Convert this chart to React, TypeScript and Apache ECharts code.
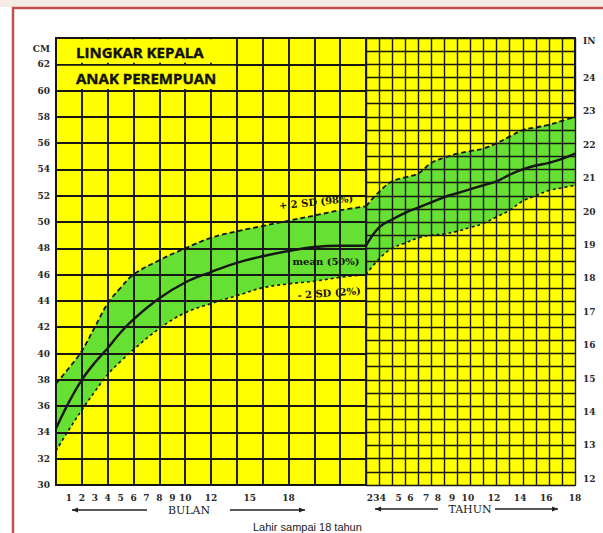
import React, { useEffect, useRef } from 'react';
import * as echarts from 'echarts';

// ---- data ----
const monthX = [0, 1, 2, 3, 4, 5, 6, 8, 10, 12, 14, 16, 18, 20, 22, 24];
const monthUpper = [37.7, 38.9, 40.2, 42.0, 43.8, 45.0, 46.0, 47.1, 48.0, 48.8, 49.3, 49.7, 50.1, 50.5, 50.9, 51.2];
const monthMean = [34.3, 36.3, 38.0, 39.3, 40.4, 41.6, 42.6, 44.2, 45.4, 46.2, 46.9, 47.4, 47.8, 48.1, 48.2, 48.2];
const monthLower = [32.6, 34.2, 35.7, 37.1, 38.4, 39.4, 40.3, 41.9, 43.1, 43.8, 44.4, 45.0, 45.3, 45.5, 45.8, 46.0];

const yearX = [2, 3, 4, 5, 6, 7, 8, 9, 10, 11, 12, 13, 14, 15, 16, 17, 18];
const yearUpper = [51.2, 52.3, 53.1, 53.4, 53.7, 54.5, 54.9, 55.2, 55.4, 55.6, 56.0, 56.5, 57.0, 57.2, 57.4, 57.7, 58.0];
const yearMean = [48.2, 49.6, 50.2, 50.7, 51.1, 51.5, 51.9, 52.2, 52.5, 52.8, 53.1, 53.6, 54.0, 54.3, 54.5, 54.8, 55.2];
const yearLower = [46.0, 47.2, 48.0, 48.4, 48.8, 49.0, 49.1, 49.3, 49.6, 49.9, 50.4, 50.9, 51.6, 52.0, 52.4, 52.6, 52.8];

const monthTicks = [1, 2, 3, 4, 5, 6, 7, 8, 9, 10, 12, 15, 18];
const yearTickPos = [2.3, 2.8, 3.3, 4.5, 5.4, 6.6, 7.5, 8.6, 9.8, 11.8, 13.8, 15.8, 18];
const yearTickLabels = ['2', '3', '4', '5', '6', '7', '8', '9', '10', '12', '14', '16', '18'];
const cmTicks = [30, 32, 34, 36, 38, 40, 42, 44, 46, 48, 50, 52, 54, 56, 58, 60, 62];
const inchTicks = [12, 13, 14, 15, 16, 17, 18, 19, 20, 21, 22, 23, 24];

const YELLOW = '#FFFF00';
const GREEN = '#66E032';
const INK = '#161616';

const zip = (xs: number[], ys: number[]) => xs.map((x, i) => [x, ys[i]]);

export default function App() {
  const ref = useRef<HTMLDivElement>(null);
  useEffect(() => {
    if (!ref.current) return;
    const chart = echarts.init(ref.current, undefined, { renderer: 'svg' });
    const serifBold = { fontFamily: 'DejaVu Serif', fontWeight: 'bold' as const, fontSize: 9, color: '#2a2a2a' };

    const sectionSeries = (g: number, xs: number[], up: number[], me: number[], lo: number[]) => {
      const base = {
        type: 'line' as const,
        xAxisIndex: g,
        yAxisIndex: g,
        smooth: 0.4,
        symbol: 'none',
        silent: true,
      };
      return [
        { ...base, data: zip(xs, up), z: 1, lineStyle: { width: 0 }, areaStyle: { color: GREEN, opacity: 1, origin: 'start' } },
        { ...base, data: zip(xs, lo), z: 2, lineStyle: { width: 0 }, areaStyle: { color: YELLOW, opacity: 1, origin: 'start' } },
        { ...base, data: zip(xs, up), z: 4, lineStyle: { color: INK, width: 1.8, type: [5, 3] } },
        { ...base, data: zip(xs, lo), z: 4, lineStyle: { color: INK, width: 1.6, type: [3, 3] } },
        { ...base, data: zip(xs, me), z: 4, lineStyle: { color: INK, width: 2.4 } },
      ];
    };

    const arrow = (x1: number, x2: number, y: number, headLeft: boolean) => {
      const hx = headLeft ? x1 : x2;
      const d = headLeft ? 6 : -6;
      return [
        { type: 'line', shape: { x1, y1: y, x2, y2: y }, style: { stroke: '#222', lineWidth: 1.4 } },
        { type: 'polygon', shape: { points: [[hx, y], [hx + d, y - 2.5], [hx + d, y + 2.5]] }, style: { fill: '#222' } },
      ];
    };

    const titleStyle = (text: string) => ({
      text, font: 'bold 15px "Open Sans"', fill: '#111', stroke: '#111', lineWidth: 0.4, textVerticalAlign: 'middle',
    });

    chart.setOption({
      animation: false,
      backgroundColor: '#ffffff',
      grid: [
        { left: 56, top: 38, width: 310, height: 447, show: true, backgroundColor: YELLOW, borderColor: INK, borderWidth: 2 },
        { left: 366, top: 38, width: 209, height: 447, show: true, backgroundColor: YELLOW, borderColor: INK, borderWidth: 2 },
      ],
      xAxis: [
        {
          gridIndex: 0, type: 'value', min: 0, max: 24, interval: 2, z: 3,
          axisLine: { show: false }, axisTick: { show: false },
          splitLine: { show: true, lineStyle: { color: INK, width: 1.9 } },
          axisLabel: { ...serifBold, margin: 8, customValues: monthTicks, formatter: (v: number) => String(v) },
        },
        {
          gridIndex: 1, type: 'value', min: 2, max: 18, interval: 1, z: 3,
          axisLine: { show: false }, axisTick: { show: false },
          splitLine: { show: true, lineStyle: { color: INK, width: 1.4 } },
          axisLabel: {
            ...serifBold, margin: 8, customValues: yearTickPos,
            formatter: (v: number) => {
              const i = yearTickPos.findIndex((p) => Math.abs(p - v) < 1e-6);
              return i >= 0 ? yearTickLabels[i] : '';
            },
          },
        },
      ],
      yAxis: [
        {
          gridIndex: 0, type: 'value', min: 30, max: 64, interval: 2, z: 3,
          axisLine: { show: false }, axisTick: { show: false },
          splitLine: { show: true, lineStyle: { color: INK, width: 1.9 } },
          axisLabel: {
            ...serifBold, margin: 6, customValues: [...cmTicks, 63.2],
            formatter: (v: number) => (v > 62.5 ? 'CM' : String(v)),
          },
        },
        {
          gridIndex: 1, type: 'value', min: 30, max: 64, interval: 1, z: 3,
          axisLine: { show: false }, axisTick: { show: false },
          splitLine: { show: true, lineStyle: { color: INK, width: 1.4 } },
          axisLabel: { show: false },
        },
        {
          gridIndex: 1, type: 'value', min: 30 / 2.54, max: 64 / 2.54, position: 'right', z: 3,
          axisLine: { show: false }, axisTick: { show: false }, splitLine: { show: false },
          axisLabel: {
            ...serifBold, margin: 8, customValues: [...inchTicks, 25.1],
            formatter: (v: number) => (v > 24.5 ? 'IN' : String(v)),
          },
        },
      ],
      series: [
        ...sectionSeries(0, monthX, monthUpper, monthMean, monthLower),
        ...sectionSeries(1, yearX, yearUpper, yearMean, yearLower),
        {
          type: 'line', xAxisIndex: 0, yAxisIndex: 0, data: [[0, 30]], symbol: 'none', silent: true, z: 5,
          lineStyle: { width: 0 },
          markArea: {
            silent: true, z: 5,
            itemStyle: { color: YELLOW, borderWidth: 0 },
            data: [
              [{ coord: [0.12, 62.12] }, { coord: [13.88, 63.9] }],
              [{ coord: [0.12, 60.12] }, { coord: [13.88, 61.88] }],
            ],
          },
        },
      ],
      graphic: [
        { type: 'rect', shape: { x: 0, y: 0, width: 603, height: 7 }, style: { fill: '#F5ECE6' }, z: 10 },
        { type: 'rect', shape: { x: 13, y: 8, width: 620, height: 580 }, style: { fill: 'none', stroke: '#C0504D', lineWidth: 2.5 }, z: 10 },
        { type: 'text', x: 76, y: 52, z: 10, style: titleStyle('LINGKAR KEPALA') },
        { type: 'text', x: 76, y: 78, z: 10, style: titleStyle('ANAK PEREMPUAN') },
        { type: 'text', x: 316, y: 202, rotation: 0.1, z: 10, style: { text: '+ 2 SD (98%)', font: 'bold 10px "DejaVu Serif"', fill: '#111', textAlign: 'center', textVerticalAlign: 'middle' } },
        { type: 'text', x: 326, y: 261, z: 10, style: { text: 'mean (50%)', font: 'bold 10px "DejaVu Serif"', fill: '#111', textAlign: 'center', textVerticalAlign: 'middle' } },
        { type: 'text', x: 329, y: 293, rotation: 0.07, z: 10, style: { text: '- 2 SD (2%)', font: 'bold 10px "DejaVu Serif"', fill: '#111', textAlign: 'center', textVerticalAlign: 'middle' } },
        { type: 'text', x: 189, y: 510, z: 10, style: { text: 'BULAN', font: '11px "DejaVu Serif"', fill: '#222', textAlign: 'center', textVerticalAlign: 'middle' } },
        { type: 'text', x: 470, y: 509, z: 10, style: { text: 'TAHUN', font: '11px "DejaVu Serif"', fill: '#222', textAlign: 'center', textVerticalAlign: 'middle' } },
        { type: 'text', x: 253, y: 527, z: 10, style: { text: 'Lahir sampai 18 tahun', font: '11px "Liberation Sans"', fill: '#222', textVerticalAlign: 'middle' } },
        ...arrow(72, 147, 510, true).map((e) => ({ ...e, z: 10 })),
        ...arrow(230, 305, 510, false).map((e) => ({ ...e, z: 10 })),
        ...arrow(375, 438, 509, true).map((e) => ({ ...e, z: 10 })),
        ...arrow(495, 558, 509, false).map((e) => ({ ...e, z: 10 })),
      ],
    });
    return () => chart.dispose();
  }, []);
  return <div ref={ref} style={{ position: 'absolute', left: 0, top: 0, width: 603, height: 533 }} />;
}
